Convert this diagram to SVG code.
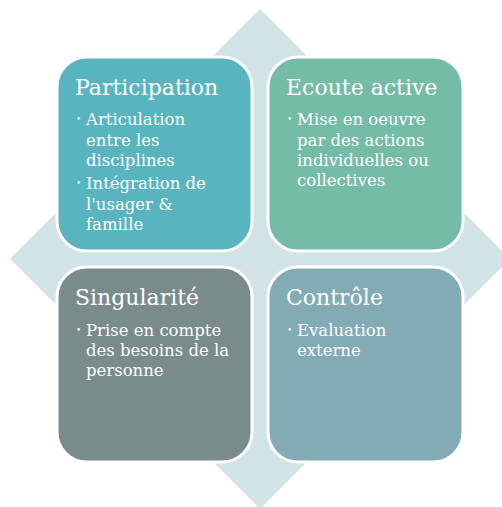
<svg xmlns="http://www.w3.org/2000/svg" width="502" height="507" viewBox="0 0 502 507">
<style>
.box{stroke:#fff;stroke-width:3}
.t{font-family:"DejaVu Serif","Liberation Serif",serif;fill:#fff}
.h{font-size:22px}
.b{font-size:16.5px}
.d{font-size:9px}
</style>
<rect width="502" height="507" fill="#fff"/>
<polygon id="diamond" points="260,9 510,259 260,509 10,259" fill="#D1E3E7"/>
<g id="connectors"/>
<g id="participation">
<rect class="box" x="57" y="57" width="195" height="194" rx="30" fill="#58B4BE"/>
<text class="t h" x="75" y="95">Participation</text>
<text class="t d" x="76" y="122">•</text>
<text class="t b" x="86" y="125">Articulation</text>
<text class="t b" x="86" y="145.5">entre les</text>
<text class="t b" x="86" y="165.5">disciplines</text>
<text class="t d" x="76" y="186">•</text>
<text class="t b" x="86" y="189">Intégration de</text>
<text class="t b" x="86" y="209.5">l'usager &amp;</text>
<text class="t b" x="86" y="230">famille</text>
</g>
<g id="ecoute">
<rect class="box" x="268" y="57" width="195" height="194" rx="30" fill="#74BCA6"/>
<text class="t h" x="286" y="95">Ecoute active</text>
<text class="t d" x="287" y="122">•</text>
<text class="t b" x="297" y="125">Mise en oeuvre</text>
<text class="t b" x="297" y="145.5">par des actions</text>
<text class="t b" x="297" y="165.5">individuelles ou</text>
<text class="t b" x="297" y="185.5">collectives</text>
</g>
<g id="singularite">
<rect class="box" x="57" y="267" width="195" height="195" rx="30" fill="#7A8B8C"/>
<text class="t h" x="75" y="305">Singularité</text>
<text class="t d" x="76" y="333">•</text>
<text class="t b" x="86" y="336">Prise en compte</text>
<text class="t b" x="86" y="356">des besoins de la</text>
<text class="t b" x="86" y="376">personne</text>
</g>
<g id="controle">
<rect class="box" x="268" y="267" width="195" height="195" rx="30" fill="#83ABB5"/>
<text class="t h" x="286" y="305">Contrôle</text>
<text class="t d" x="287" y="333">•</text>
<text class="t b" x="297" y="336">Evaluation</text>
<text class="t b" x="297" y="356">externe</text>
</g>
</svg>
